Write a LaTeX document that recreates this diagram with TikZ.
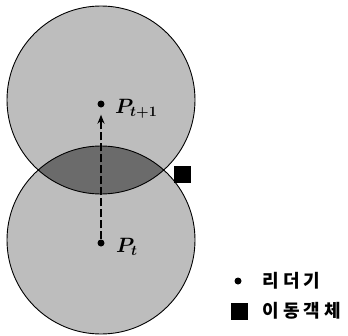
\documentclass[tikz,border=0pt]{standalone}
\usepackage{fontspec}
\newfontfamily\krfont[LetterSpace=24]{Noto Sans CJK KR}
\usetikzlibrary{arrows.meta,positioning}

\begin{document}
\begin{tikzpicture}[
  x=1pt, y=-1pt,
  zone/.style={draw=black, line width=0.9pt},
  reader/.style={circle, fill=black, inner sep=0pt, minimum size=7pt},
  mover/.style={rectangle, fill=black, inner sep=0pt, minimum size=17pt},
  plabel/.style={font=\fontsize{20}{20}\selectfont\boldmath, inner sep=0pt, anchor=base west},
  legendtext/.style={font=\krfont\bfseries\fontsize{18}{18}\selectfont, inner sep=0pt, anchor=west}
]
\useasboundingbox (0,0) rectangle (348,335);
% coverage of the reader at t+1 and at t
\coordinate (cnext) at (101,100);
\coordinate (cnow) at (101,240);
\fill[black!26] (cnext) circle (94pt) (cnow) circle (94pt);
\begin{scope}
  \clip (cnext) circle (94pt);
  \fill[black!58] (cnow) circle (94pt);
\end{scope}
\draw[zone] (cnext) circle (94pt) (cnow) circle (94pt);

% reader positions
\node[reader] (pnext) at (101,104) {};
\node[reader] (pnow) at (101,243) {};
\node[plabel] (lnext) at (115,113) {$P_{t+1}$};
\node[plabel] (lnow) at (116,252) {$P_t$};
\draw[line width=2pt, dash pattern=on 8pt off 3pt, -{Stealth[length=9pt,width=7pt]},
  shorten >=7pt] (pnow) -- (pnext);

% moving object
\node[mover] (obj) at (182,174) {};

% legend
\node[reader] (keyreader) at (238,281) {};
\node[legendtext] (txtreader) at (262,281) {리더기};
\node[mover] (keyobj) at (239,311) {};
\node[legendtext] (txtobj) at (262,311) {이동객체};
\end{tikzpicture}
\end{document}
